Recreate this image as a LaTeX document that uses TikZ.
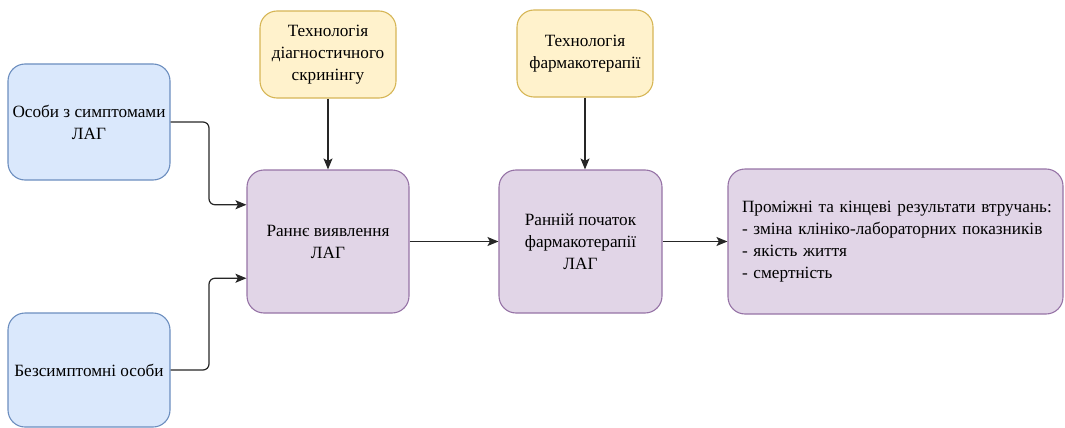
\documentclass[tikz,border=0pt]{standalone}
\usepackage{fontspec}
\setmainfont{Liberation Serif}
\usetikzlibrary{arrows.meta,calc}
\definecolor{bfill}{HTML}{DAE8FC}
\definecolor{bline}{HTML}{6C8EBF}
\definecolor{yfill}{HTML}{FFF2CC}
\definecolor{yline}{HTML}{D6B656}
\definecolor{pfill}{HTML}{E1D5E7}
\definecolor{pline}{HTML}{9673A6}
\begin{document}
\begin{tikzpicture}[x=1pt,y=-1pt,
  box/.style={draw, rounded corners=17pt, line width=1.1pt, align=center,
    font=\rmfamily\fontsize{17.2}{22}\selectfont, inner sep=0pt},
  bluebox/.style={box, fill=bfill, draw=bline},
  yellowbox/.style={box, fill=yfill, draw=yline},
  purplebox/.style={box, fill=pfill, draw=pline},
  ar/.style={-{Stealth[length=11pt,width=9pt,inset=2.5pt]}, line width=1.2pt, draw=black!85, rounded corners=6pt}
]
\useasboundingbox (0,0) rectangle (1065,428);
\node[bluebox, minimum width=162pt, minimum height=116pt] (A) at (89,122) {Особи з симптомами\\ЛАГ};
\node[bluebox, minimum width=162pt, minimum height=114pt] (B) at (89,370) {Безсимптомні особи};
\node[yellowbox, minimum width=136pt, minimum height=87pt] (T1) at (328,54.5) {Технологія\\діагностичного\\скринінгу};
\node[yellowbox, minimum width=136pt, minimum height=87pt] (T2) at (585,53.5) {Технологія\\фармакотерапії};
\node[purplebox, minimum width=162pt, minimum height=143pt] (C) at (328,241.5) {Раннє виявлення\\ЛАГ};
\node[purplebox, minimum width=163pt, minimum height=143pt] (D) at (580.5,241.5) {Ранній початок\\фармакотерапії\\ЛАГ};
\node[purplebox, text width=335pt, align=left, minimum height=145pt] (E) at (895.5,241.5) {\hspace*{14pt}Проміжні та кінцеві результати втручань:\\\hspace*{14pt}- зміна клініко-лабораторних показників\\\hspace*{14pt}- якість життя\\\hspace*{14pt}- смертність};
\coordinate (m) at (209,0);
\coordinate (c1) at ($(C.north west)!0.245!(C.south west)$);
\coordinate (c2) at ($(C.north west)!0.755!(C.south west)$);
\draw[ar] (A.east) -- (A.east -| m) |- (c1);
\draw[ar] (B.east) -- (B.east -| m) |- (c2);
\draw[ar] (T1.south) -- (C.north);
\draw[ar] (T2.south) -- (T2.south |- D.north);
\draw[ar] (C.east) -- (D.west);
\draw[ar] (D.east) -- (E.west);
\end{tikzpicture}
\end{document}
